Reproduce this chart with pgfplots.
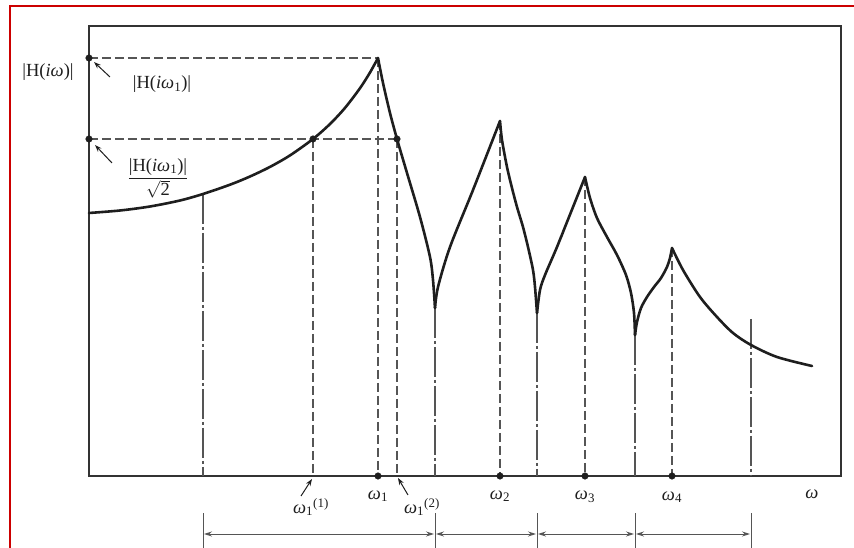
\documentclass[border=0pt]{standalone}
\usepackage{fontspec}
\setmainfont{Liberation Serif}
\usepackage{pgfplots}
\pgfplotsset{compat=1.18}
\usetikzlibrary{arrows.meta}

\definecolor{framered}{RGB}{204,0,0}
\definecolor{guide}{RGB}{85,85,85}
\definecolor{ink}{RGB}{30,30,30}

\newcommand{\w}{\textit{ω}}

\tikzset{
  resp/.style={line width=2.6pt, ink, line cap=round, line join=round},
  dashedguide/.style={line width=1.1pt, guide, dash pattern=on 9pt off 4pt},
  dashdotguide/.style={line width=1.1pt, guide, dash pattern=on 30pt off 3pt on 3pt off 3pt},
  dimline/.style={line width=0.9pt, guide},
  pointer/.style={line width=1pt, ink, -{Stealth[length=7pt,width=5pt]}},
}

\begin{document}
\begin{tikzpicture}[font=\fontsize{18.5}{22}\selectfont]
\begin{axis}[
  scale only axis, width=752pt, height=450pt,
  xmin=89, xmax=841, ymin=72, ymax=522,
  xtick=\empty, ytick=\empty,
  axis line style={line width=1.8pt, black!80},
  clip=false,
]
% page frame
\coordinate (BL) at (axis cs:0,0);
\coordinate (TR) at (axis cs:854,548);
\draw[framered, line width=2pt] (axis cs:10,0) -- (axis cs:10,542) -- (axis cs:854,542);

% peak and half-power levels
\addplot[dashedguide] coordinates {(89,490) (378,490)};
\addplot[dashedguide] coordinates {(89,409) (397,409)};

% vertical guides from peaks and half-power points
\addplot[dashedguide] coordinates {(313,409) (313,72)};
\addplot[dashedguide] coordinates {(378,490) (378,72)};
\addplot[dashedguide] coordinates {(397,409) (397,72)};
\addplot[dashedguide] coordinates {(500,427) (500,72)};
\addplot[dashedguide] coordinates {(585,371) (585,72)};
\addplot[dashedguide] coordinates {(672,300) (672,72)};

% vertical guides at band boundaries
\addplot[dashdotguide] coordinates {(203,354) (203,72)};
\addplot[dashdotguide] coordinates {(435,240) (435,72)};
\addplot[dashdotguide] coordinates {(537,235) (537,72)};
\addplot[dashdotguide] coordinates {(635,213) (635,72)};
\addplot[dashdotguide] coordinates {(751,229) (751,72)};

% frequency response, one smooth piece between cusps
\addplot[resp, smooth] coordinates {(89,335) (120,337.5) (150,341.5) (180,347.5) (203,354) (230,363.3) (250,371.5) (270,381.1) (290,392.6) (313,409) (330,424) (345,440.1) (360,459.8) (370,475.5) (378,490)};
\addplot[resp, smooth] coordinates {(378,490) (383,465) (390,435) (397,409) (407,375) (420,331) (430,291) (433,268) (435,240)};
\addplot[resp, smooth] coordinates {(435,240) (438,261) (450,301) (473,358) (500,427)};
\addplot[resp, smooth] coordinates {(500,427) (502,408) (507,381) (512,360) (517,341) (523,321) (528,301) (533,278) (535,261) (537,235)};
\addplot[resp, smooth] coordinates {(537,235) (540,258) (545,273) (557,301) (573,341) (585,371)};
\addplot[resp, smooth] coordinates {(585,371) (590,350) (597,330) (607,311) (617,293) (626,273) (631,255) (634,235) (635,213)};
\addplot[resp, smooth] coordinates {(635,213) (637,226) (641,240) (647,251) (654,261) (661,270) (667,281) (670,290) (672,300)};
\addplot[resp, smooth] coordinates {(672,300) (683,278) (700,251) (717,231) (733,215) (751,203) (777,191) (812,182)};

% marked points
\addplot[only marks, mark=*, mark size=3.3pt, ink] coordinates {
  (89,490) (89,409) (313,409) (397,409)
  (378,72) (500,72) (585,72) (672,72)};

% bandwidth dimension lines
\addplot[dimline] coordinates {(203,0) (203,35)};
\addplot[dimline] coordinates {(435,0) (435,35)};
\addplot[dimline] coordinates {(537,0) (537,35)};
\addplot[dimline] coordinates {(635,0) (635,35)};
\addplot[dimline] coordinates {(751,0) (751,35)};
\draw[dimline, {Stealth[length=8pt,width=5pt]}-{Stealth[length=8pt,width=5pt]}] (axis cs:204,14) -- (axis cs:434,14);
\draw[dimline, {Stealth[length=8pt,width=5pt]}-{Stealth[length=8pt,width=5pt]}] (axis cs:436,14) -- (axis cs:536,14);
\draw[dimline, {Stealth[length=8pt,width=5pt]}-{Stealth[length=8pt,width=5pt]}] (axis cs:538,14) -- (axis cs:634,14);
\draw[dimline, {Stealth[length=8pt,width=5pt]}-{Stealth[length=8pt,width=5pt]}] (axis cs:636,14) -- (axis cs:750,14);

% labels
\node[ink] at (axis cs:48,476) {|H(\textit{iω})|};
\draw[pointer] (axis cs:110,471) -- (axis cs:94,486);
\node[ink] at (axis cs:162,464) {|H(\textit{iω}\textsubscript{1})|};
\draw[pointer] (axis cs:112,385) -- (axis cs:95,403);
\node[ink] at (axis cs:158,370) {$\displaystyle\frac{\mbox{|H(\textit{iω}\textsubscript{1})|}}{\sqrt{\mbox{2}}}$};

\node[ink] at (axis cs:311,41) {\w\textsubscript{1}\textsuperscript{(1)}};
\draw[pointer] (axis cs:301,52) -- (axis cs:312,69);
\node[ink] at (axis cs:378,52) {\w\textsubscript{1}};
\node[ink] at (axis cs:422,41) {\w\textsubscript{1}\textsuperscript{(2)}};
\draw[pointer] (axis cs:408,53) -- (axis cs:398,70);
\node[ink] at (axis cs:500,52) {\w\textsubscript{2}};
\node[ink] at (axis cs:585,51) {\w\textsubscript{3}};
\node[ink] at (axis cs:672,51) {\w\textsubscript{4}};
\node[ink] at (axis cs:812,54) {\w};
\end{axis}
\pgfresetboundingbox
\path[use as bounding box] (BL) rectangle (TR);
\end{tikzpicture}
\end{document}
